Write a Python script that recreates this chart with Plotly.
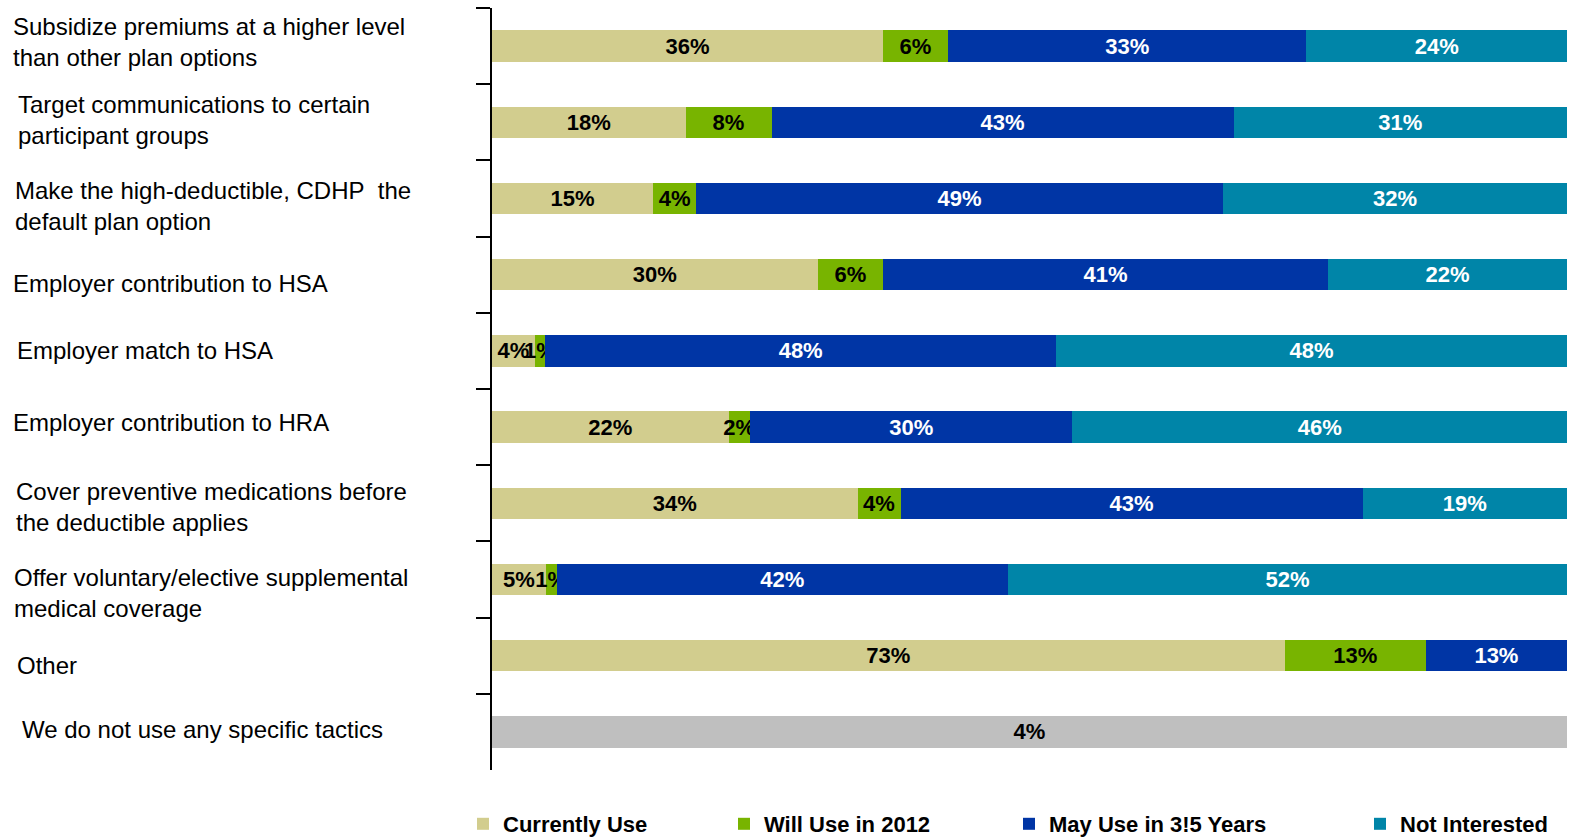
import plotly.graph_objects as go

# Tactics (top to bottom)
categories = [
    "Subsidize premiums at a higher level<br>than other plan options",
    "Target communications to certain<br>participant groups",
    "Make the high-deductible, CDHP\u00a0 the<br>default plan option",
    "Employer contribution to HSA",
    "Employer match to HSA",
    "Employer contribution to HRA",
    "Cover preventive medications before<br>the deductible applies",
    "Offer voluntary/elective supplemental<br>medical coverage",
    "Other",
    "We do not use any specific tactics",
]

series_names = ["Currently Use", "Will Use in 2012", "May Use in 3!5 Years", "Not Interested"]

currently_use = [36, 18, 15, 30, 4, 22, 34, 5, 73, None]
will_use_2012 = [6, 8, 4, 6, 1, 2, 4, 1, 13, None]
may_use_3_5 = [33, 43, 49, 41, 48, 30, 43, 42, 13, None]
not_interested = [24, 31, 32, 22, 48, 46, 19, 52, None, None]
no_tactics = [None, None, None, None, None, None, None, None, None, 4]

# Styling
colors = ["#D2CD8E", "#78B400", "#0035A5", "#0085A8"]
text_colors = ["black", "black", "white", "white"]
no_tactics_color = "#BFBFBF"

W, H = 1577, 840
ML, MR, MT, MB = 492, 10, 8, 70
plot_w = W - ML - MR
plot_h = H - MT - MB

bar_font = dict(family="Liberation Sans, Arial, sans-serif", size=22, weight="bold")

fig = go.Figure()

legend_ids = ["legend", "legend2", "legend3", "legend4"]
for name, vals, col, tcol, lid in zip(series_names,
                                       [currently_use, will_use_2012, may_use_3_5, not_interested],
                                       colors, text_colors, legend_ids):
    fig.add_trace(go.Bar(
        y=categories, x=vals, orientation="h", name=name,
        marker=dict(color=col, line=dict(width=0)),
        text=[f"{v}%" if v else "" for v in vals],
        textposition="inside", insidetextanchor="middle", textangle=0,
        constraintext="none", cliponaxis=False,
        textfont=dict(color=tcol, **bar_font),
        legend=lid,
    ))

fig.add_trace(go.Bar(
    y=categories, x=no_tactics, orientation="h", name="We do not use any specific tactics",
    marker=dict(color=no_tactics_color, line=dict(width=0)),
    text=[f"{v}%" if v else "" for v in no_tactics],
    textposition="inside", insidetextanchor="middle", textangle=0,
    constraintext="none", cliponaxis=False,
    textfont=dict(color="black", **bar_font),
    showlegend=False,
))

# Left-aligned category labels
label_x_px = [11, 16, 13, 11, 15, 11, 14, 12, 15, 20]
label_yshift = [4, 2, -7, -9, 0, 5, -4, -13, -10, 2]
annotations = []
for cat, xp, ys in zip(categories, label_x_px, label_yshift):
    annotations.append(dict(
        text=cat, xref="paper", yref="y", x=(xp - ML) / plot_w, y=cat,
        xanchor="left", yanchor="middle", align="left", showarrow=False,
        yshift=ys,
        font=dict(family="Liberation Sans, Arial, sans-serif", size=24, color="black"),
    ))

# One legend per series so each entry sits at its own position
legend_text_px = [503, 764, 1049, 1400]
legend_font = dict(family="Liberation Sans, Arial, sans-serif", size=22, color="black", weight="bold")
legend_y = -(824 - (H - MB)) / plot_h
legend_layout = {}
for lid, tx in zip(legend_ids, legend_text_px):
    legend_layout[lid] = dict(
        x=(tx - 40 - ML) / plot_w, y=legend_y, xanchor="left", yanchor="middle",
        orientation="h", font=legend_font, bgcolor="rgba(0,0,0,0)", borderwidth=0,
    )

fig.update_layout(
    width=W, height=H,
    margin=dict(l=ML, r=MR, t=MT, b=MB, autoexpand=False),
    barmode="stack", barnorm="percent", bargap=0.59,
    plot_bgcolor="white", paper_bgcolor="white",
    xaxis=dict(range=[0, 100.001], visible=False, fixedrange=True),
    yaxis=dict(
        type="category", categoryorder="array", categoryarray=categories,
        autorange="reversed", showticklabels=False, showgrid=False, zeroline=False,
        showline=True, linecolor="black", linewidth=2,
        ticks="outside", tickson="boundaries", ticklen=14, tickwidth=2, tickcolor="black",
    ),
    annotations=annotations,
    showlegend=True,
    **legend_layout,
)

fig.write_html("out.html")
